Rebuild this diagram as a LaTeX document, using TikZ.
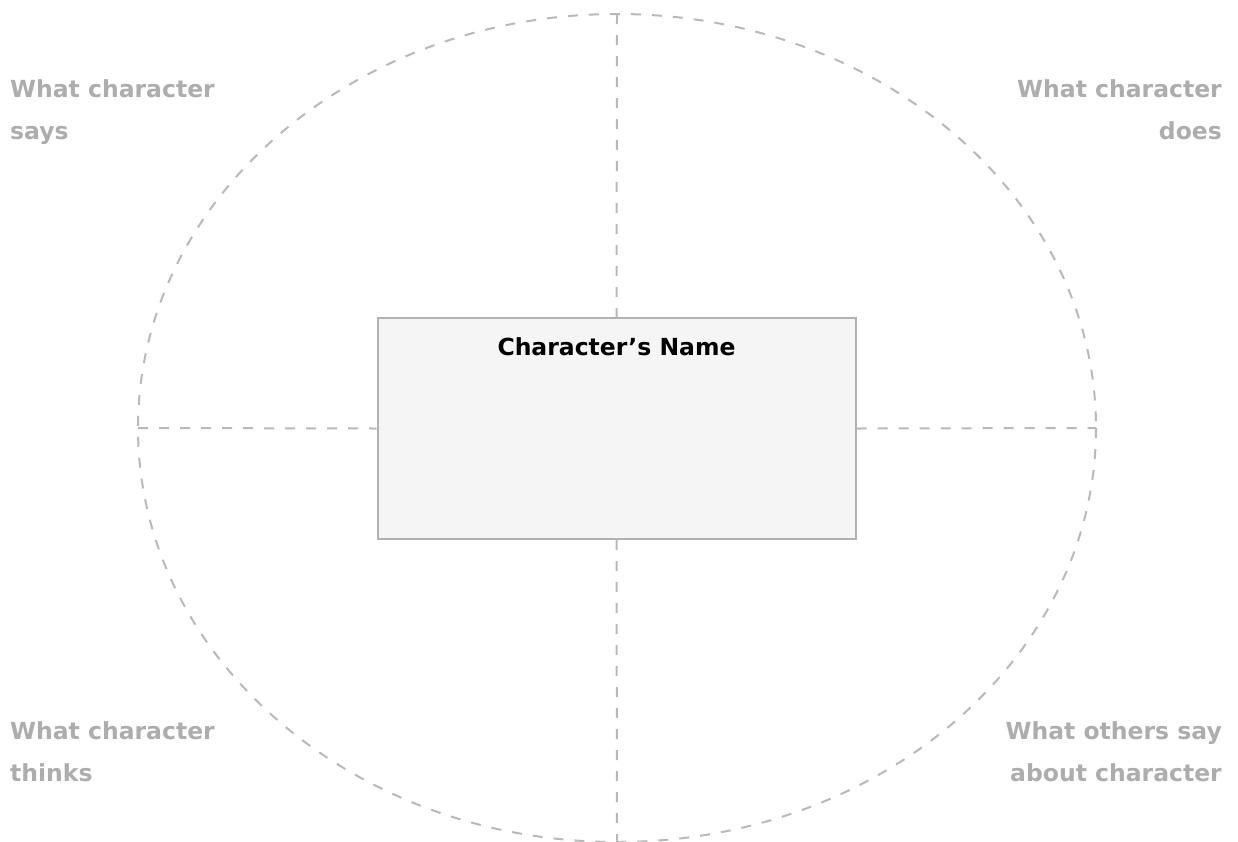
\documentclass[tikz,border=0pt]{standalone}
\usepackage{fontspec}
\setmainfont{DejaVu Sans}
\begin{document}
\begin{tikzpicture}[x=1pt,y=-1pt,
  guide/.style={draw=gray!55, line width=2pt, dash pattern=on 10pt off 11pt},
  lbl/.style={text=black!32, font=\fontsize{23.5}{42}\selectfont\bfseries, inner sep=0pt},
  namebox/.style={draw=black!30, fill=black!4, line width=2pt, minimum width=478pt, minimum height=221pt, inner sep=0pt}]
\useasboundingbox (0,0) rectangle (1238,841);
\draw[guide] (617,428) ellipse [x radius=479, y radius=414];
\node[namebox] (box) at (616.5,428.5) {};
\node[font=\fontsize{23.5}{28}\selectfont\bfseries, inner sep=0pt] (title) at (616.5,347) {Character’s Name};
\coordinate (top) at (617,14);
\coordinate (bot) at (617,841);
\coordinate (lft) at (138,428);
\coordinate (rgt) at (1096,428);
\draw[guide] (top) -- (box.north);
\draw[guide] (box.south) -- (bot);
\draw[guide] (lft) -- (box.west);
\draw[guide] (box.east) -- (rgt);
\node[lbl, anchor=base west, align=left] (says) at (10,139) {What character\\says};
\node[lbl, anchor=base east, align=right] (does) at (1222,139) {What character\\does};
\node[lbl, anchor=base west, align=left] (thinks) at (10,781) {What character\\thinks};
\node[lbl, anchor=base east, align=right] (others) at (1222,781) {What others say\\about character};
\end{tikzpicture}
\end{document}
